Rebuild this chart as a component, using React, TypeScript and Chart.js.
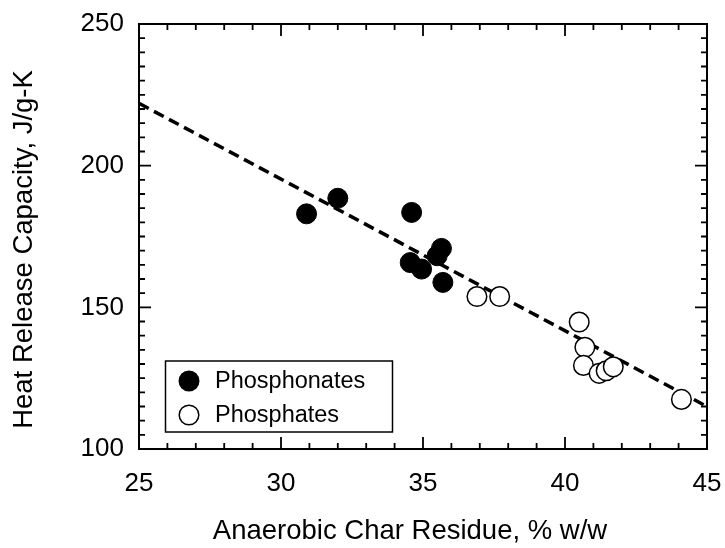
import React, { useEffect, useRef } from 'react';
import { Chart, registerables } from 'chart.js';

Chart.register(...registerables);

// ---- Data ----
const phosphonateX = [30.9, 32.0, 34.6, 34.55, 34.95, 35.5, 35.65, 35.7];
const phosphonateY = [183, 188.5, 183.5, 165.8, 163.5, 168.2, 170.8, 158.8];
const phosphateX = [36.9, 37.7, 40.5, 40.7, 40.65, 41.2, 41.45, 41.7, 44.1];
const phosphateY = [153.8, 153.8, 144.8, 135.9, 129.5, 126.7, 127.6, 129, 117.5];
const fitX = [25, 45];
const fitY = [222, 115];
const xTicks = [25, 30, 35, 40, 45];
const yTicks = [100, 150, 200, 250];
const xMinorStep = 1;
const yMinorStep = 5;
const xTitle = 'Anaerobic Char Residue, % w/w';
const yTitle = 'Heat Release Capacity, J/g-K';
const seriesLabels = ['Phosphonates', 'Phosphates'];

const FONT = '"Liberation Sans", Arial, Helvetica, sans-serif';

const framePlugin = {
  id: 'frameTicks',
  afterDraw(chart: any) {
    const { ctx, chartArea, scales } = chart;
    const { left, right, top, bottom } = chartArea;
    const xs = scales.x;
    const ys = scales.y;
    ctx.save();
    ctx.strokeStyle = '#000';
    const major = 12;
    const minor = 6;
    ctx.lineWidth = 1.8;
    ctx.beginPath();
    const xmin = xTicks[0];
    const xmax = xTicks[xTicks.length - 1];
    for (let v = xmin; v <= xmax + 1e-9; v += xMinorStep) {
      const isMajor = xTicks.some((t) => Math.abs(t - v) < 1e-9);
      const len = isMajor ? major : minor;
      const px = xs.getPixelForValue(v);
      ctx.moveTo(px, bottom);
      ctx.lineTo(px, bottom - len);
      ctx.moveTo(px, top);
      ctx.lineTo(px, top + len);
    }
    const ymin = yTicks[0];
    const ymax = yTicks[yTicks.length - 1];
    for (let v = ymin; v <= ymax + 1e-9; v += yMinorStep) {
      const isMajor = yTicks.some((t) => Math.abs(t - v) < 1e-9);
      const len = isMajor ? major : minor;
      const py = ys.getPixelForValue(v);
      ctx.moveTo(left, py);
      ctx.lineTo(left + len, py);
      ctx.moveTo(right, py);
      ctx.lineTo(right - len, py);
    }
    ctx.stroke();
    ctx.lineWidth = 2;
    ctx.strokeRect(left, top, right - left, bottom - top);

    // legend
    const bx = left + 26.5;
    const by = bottom - 88;
    const bw = 227;
    const bh = 71;
    ctx.lineWidth = 1.5;
    ctx.fillStyle = '#fff';
    ctx.fillRect(bx, by, bw, bh);
    ctx.strokeRect(bx, by, bw, bh);
    const cx = bx + 23.5;
    const rows = [by + 20, by + 54];
    ctx.font = `23.5px ${FONT}`;
    ctx.textBaseline = 'middle';
    ctx.textAlign = 'left';
    rows.forEach((cy, i) => {
      ctx.beginPath();
      ctx.arc(cx, cy, i === 0 ? 10.5 : 9.8, 0, Math.PI * 2);
      if (i === 0) {
        ctx.fillStyle = '#000';
        ctx.fill();
      } else {
        ctx.fillStyle = '#fff';
        ctx.fill();
        ctx.lineWidth = 1.5;
        ctx.stroke();
      }
      ctx.fillStyle = '#000';
      ctx.fillText(chart.data.datasets[i].label, cx + 26, cy + 1);
    });
    ctx.restore();
  },
};

const zeroPad = (s: any) => {
  s.paddingLeft = 0;
  s.paddingRight = 0;
  s.paddingTop = 0;
  s.paddingBottom = 0;
};

// shift the axis title slightly along its axis (the reference is not exactly centred)
const shiftTitle = (s: any, dx: number, dy: number) => {
  if (s.__shifted) return;
  s.__shifted = true;
  const orig = Object.getPrototypeOf(s).drawTitle;
  s.drawTitle = function () {
    const ctx = this.ctx;
    ctx.save();
    ctx.translate(dx, dy);
    orig.call(this);
    ctx.restore();
  };
};

export default function App() {
  const ref = useRef<HTMLCanvasElement | null>(null);

  useEffect(() => {
    if (!ref.current) return;
    const chart = new Chart(ref.current, {
      type: 'scatter',
      data: {
        datasets: [
          {
            label: seriesLabels[0],
            data: phosphonateX.map((x, i) => ({ x, y: phosphonateY[i] })),
            backgroundColor: '#000',
            borderColor: '#000',
            borderWidth: 1,
            pointRadius: 10,
            order: 1,
          },
          {
            label: seriesLabels[1],
            data: phosphateX.map((x, i) => ({ x, y: phosphateY[i] })),
            backgroundColor: '#fff',
            borderColor: '#000',
            borderWidth: 1.5,
            pointRadius: 9.8,
            order: 2,
          },
          {
            label: 'fit',
            data: fitX.map((x, i) => ({ x, y: fitY[i] })),
            showLine: true,
            borderColor: '#000',
            borderWidth: 3.5,
            borderDash: [11, 6],
            pointRadius: 0,
            order: 10,
          } as any,
        ],
      },
      options: {
        responsive: false,
        devicePixelRatio: 1,
        animation: false,
        layout: { padding: { left: 0, top: 24, right: 18, bottom: 0 } },
        plugins: {
          legend: { display: false },
          tooltip: { enabled: false },
        },
        scales: {
          x: {
            type: 'linear',
            position: 'bottom',
            min: xTicks[0],
            max: xTicks[xTicks.length - 1],
            afterBuildTicks: (s: any) => {
              s.ticks = xTicks.map((v) => ({ value: v }));
            },
            afterFit: (s: any) => {
              s.height = 99;
              zeroPad(s);
              shiftTitle(s, -13, 0);
            },
            grid: { display: false, drawTicks: false },
            border: { display: false },
            ticks: {
              color: '#000',
              font: { family: FONT, size: 26 },
              padding: 19,
              maxRotation: 0,
              callback: (v: any) => String(v),
            },
            title: {
              display: true,
              text: xTitle,
              color: '#000',
              font: { family: FONT, size: 27.5 },
              padding: { top: 0, bottom: 0 },
            },
          },
          y: {
            type: 'linear',
            min: yTicks[0],
            max: yTicks[yTicks.length - 1],
            afterBuildTicks: (s: any) => {
              s.ticks = yTicks.map((v) => ({ value: v }));
            },
            afterFit: (s: any) => {
              s.width = 139;
              zeroPad(s);
              shiftTitle(s, 1, 13);
            },
            grid: { display: false, drawTicks: false },
            border: { display: false },
            ticks: {
              color: '#000',
              font: { family: FONT, size: 26 },
              padding: 15,
              callback: (v: any) => String(v),
            },
            title: {
              display: true,
              text: yTitle,
              color: '#000',
              font: { family: FONT, size: 27.5 },
              padding: { top: 7, bottom: 0 },
            },
          },
        },
      },
      plugins: [framePlugin],
    });
    return () => chart.destroy();
  }, []);

  return (
    <div style={{ position: 'absolute', left: 0, top: 0, width: 725, height: 548, background: '#fff' }}>
      <canvas ref={ref} width={725} height={548} style={{ display: 'block', width: 725, height: 548 }} />
    </div>
  );
}
